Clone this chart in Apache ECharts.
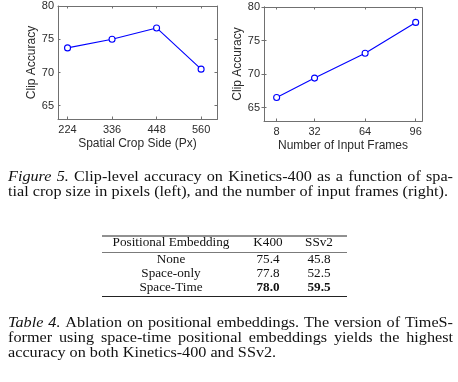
<!DOCTYPE html>
<html><head><meta charset="utf-8">
<script src="https://cdn.jsdelivr.net/npm/echarts@6/dist/echarts.min.js"></script>
<style>html,body{margin:0;padding:0;background:#fff}#c{width:458px;height:382px}</style>
</head><body><div id="c"></div>
<script>
// ---- data ----
const cropSizes = [224, 336, 448, 560];
const cropAcc = [73.7, 75.0, 76.7, 70.5];
const frameCounts = [8, 32, 64, 96];
const frameAcc = [66.5, 69.4, 73.1, 77.7];
const yTicks = [65, 70, 75, 80];
const tableHeader = ['Positional Embedding', 'K400', 'SSv2'];
const embeddings = ['None', 'Space-only', 'Space-Time'];
const k400 = [75.4, 77.8, 78.0];
const ssv2 = [45.8, 52.5, 59.5];
const bestRow = 2;
const caption1 = [
  [{t: 'Figure 5.', i: true}, {t: 'Clip-level accuracy on Kinetics-400 as a function of spa-'}],
  [{t: 'tial crop size in pixels (left), and the number of input frames (right).'}]
];
const caption2 = [
  [{t: 'Table 4.', i: true}, {t: 'Ablation on positional embeddings. The version of TimeS-'}],
  [{t: 'former using space-time positional embeddings yields the highest'}],
  [{t: 'accuracy on both Kinetics-400 and SSv2.'}]
];

const chart = echarts.init(document.getElementById('c'), null, {renderer: 'canvas'});
const AX = '#707070', TX = '#2b2b2b', SANS = '"Liberation Sans", Arial, sans-serif', SERIF = '"Liberation Serif", "Times New Roman", serif';

function axisPair(gridIndex, min, max, ticks, name, isX, main) {
  const a = {
    type: 'value', gridIndex, min, max,
    axisLine: {show: true, lineStyle: {color: AX, width: 1}},
    axisTick: {show: true, inside: true, length: 2.5, customValues: ticks, lineStyle: {color: AX}},
    splitLine: {show: false},
    axisLabel: main ? {show: true, customValues: ticks, color: TX, fontFamily: SANS, fontSize: 11, margin: isX ? 5 : 4} : {show: false},
  };
  if (main) {
    a.name = name; a.nameLocation = 'middle'; a.nameGap = isX ? 19 : 16;
    a.nameTextStyle = {color: TX, fontFamily: SANS, fontSize: 12};
  }
  a.position = isX ? (main ? 'bottom' : 'top') : (main ? 'left' : 'right');
  return a;
}

const grids = [
  {left: 58, top: 6, width: 159, height: 113, show: false},
  {left: 264, top: 7, width: 158, height: 114, show: false}
];
const xAxes = [
  axisPair(0, 200, 600, cropSizes, 'Spatial Crop Side (Px)', true, true),
  axisPair(0, 200, 600, cropSizes, '', true, false),
  axisPair(1, 0, 100, frameCounts, 'Number of Input Frames', true, true),
  axisPair(1, 0, 100, frameCounts, '', true, false)
];
const yAxes = [
  axisPair(0, 63, 80, yTicks, 'Clip Accuracy', false, true),
  axisPair(0, 63, 80, yTicks, '', false, false),
  axisPair(1, 63, 80, yTicks, 'Clip Accuracy', false, true),
  axisPair(1, 63, 80, yTicks, '', false, false)
];
function lineSeries(xi, yi, xs, ys) {
  return {
    type: 'line', xAxisIndex: xi, yAxisIndex: yi,
    data: xs.map((x, k) => [x, ys[k]]),
    symbol: 'circle', symbolSize: 6, showSymbol: true,
    lineStyle: {color: '#0000ff', width: 1.1},
    itemStyle: {color: '#ffffff', borderColor: '#0000ff', borderWidth: 1.1},
    animation: false, silent: true
  };
}

// ---- text layout helpers ----
const mctx = document.createElement('canvas').getContext('2d');
const CAP_SIZE = 15;
const CAP_SX = 1.08;
function fontStr(it, size, bold) { return (it ? 'italic ' : '') + (bold ? 'bold ' : '') + size + 'px ' + SERIF; }
function measure(t, it, size) { mctx.font = fontStr(it, size); return mctx.measureText(t).width * CAP_SX; }
function captionGraphics(lines, x0, x1, yStart, lh) {
  const out = [];
  lines.forEach((segs, li) => {
    const words = [];
    segs.forEach(s => s.t.split(' ').forEach(w => { if (w) words.push({t: w, i: !!s.i}); }));
    const widths = words.map(w => measure(w.t, w.i, CAP_SIZE));
    const sum = widths.reduce((a, b) => a + b, 0);
    const last = li === lines.length - 1;
    const gap = last ? measure(' ', false, CAP_SIZE) : (x1 - x0 - sum) / (words.length - 1);
    let x = x0;
    words.forEach((w, k) => {
      out.push({type: 'text', x: x, y: yStart + li * lh, scaleX: CAP_SX, silent: true,
        style: {text: w.t, font: fontStr(w.i, CAP_SIZE), fill: '#111', verticalAlign: 'middle', align: 'left'}});
      x += widths[k] + gap;
    });
  });
  return out;
}

const graphics = [];
grids.forEach(g => {
  graphics.push({type: 'rect', silent: true, shape: {x: g.left + 0.5, y: g.top + 0.5, width: g.width, height: g.height},
    style: {fill: null, stroke: AX, lineWidth: 1}});
});
captionGraphics(caption1, 8, 453, 177.5, 15).forEach(g => graphics.push(g));
captionGraphics(caption2, 8, 453, 323.5, 15).forEach(g => graphics.push(g));

// table
const tx0 = 102, tx1 = 347, colX = [171, 268, 319];
const TS = 13.2;
[[236, 1], [252.5, 0.6], [296.5, 1]].forEach(([y, w]) => {
  graphics.push({type: 'line', silent: true, shape: {x1: tx0, y1: y, x2: tx1, y2: y}, style: {stroke: '#222', lineWidth: w}});
});
tableHeader.forEach((h, c) => graphics.push({type: 'text', x: colX[c], y: 243, silent: true,
  style: {text: h, font: fontStr(false, TS), fill: '#111', align: 'center', verticalAlign: 'middle'}}));
embeddings.forEach((e, r) => {
  const y = 259.5 + r * 14;
  const b = r === bestRow;
  [e, k400[r].toFixed(1), ssv2[r].toFixed(1)].forEach((v, c) => graphics.push({type: 'text', x: colX[c], y: y, silent: true,
    style: {text: v, font: fontStr(false, TS, b && c > 0), fill: '#111', align: 'center', verticalAlign: 'middle'}}));
});

chart.setOption({
  animation: false,
  backgroundColor: '#fff',
  grid: grids,
  xAxis: xAxes,
  yAxis: yAxes,
  series: [lineSeries(0, 0, cropSizes, cropAcc), lineSeries(2, 2, frameCounts, frameAcc)],
  graphic: graphics
});
</script></body></html>
